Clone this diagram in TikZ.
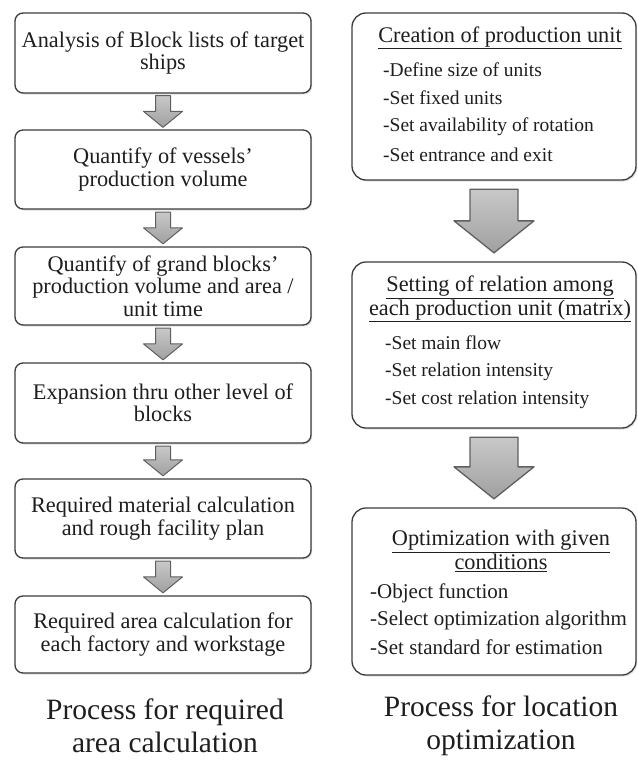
\documentclass[tikz,border=0pt]{standalone}
\usepackage{fontspec}
\setmainfont{Liberation Serif}
\usetikzlibrary{calc,shadows}

\definecolor{boxline}{RGB}{60,60,60}
\definecolor{inktext}{RGB}{30,30,30}
\definecolor{arrowline}{RGB}{95,95,95}
\definecolor{arrowtop}{RGB}{200,200,200}
\definecolor{arrowbottom}{RGB}{160,160,160}

% fat block arrow from the bottom of one box to the top of the next
% #1 from, #2 to, #3 shaft half width, #4 head half width, #5 head length, #6 gap, #7 style
\newcommand{\flowarrow}[7]{%
  \draw[#7] let \p1=(#1.south), \p2=(#2.north) in
    ({\x1-#3},{\y1-#6}) -- ({\x1+#3},{\y1-#6}) -- ({\x1+#3},{\y2+#6+#5})
    -- ({\x1+#4},{\y2+#6+#5}) -- (\x1,{\y2+#6}) -- ({\x1-#4},{\y2+#6+#5})
    -- ({\x1-#3},{\y2+#6+#5}) -- cycle;}

\tikzset{
  basebox/.style={draw=boxline, line width=1.3pt, fill=white, inner sep=0pt,
    drop shadow={shadow xshift=1.2pt, shadow yshift=-1.5pt, opacity=0.25}},
  lbox/.style={basebox, rounded corners=8pt, minimum width=296pt, align=center,
    text=inktext, font=\fontsize{22.3}{22.5}\selectfont},
  rbox/.style={basebox, rounded corners=14pt, minimum width=284pt, minimum height=167pt},
  rtitle/.style={align=center, inner sep=0pt, text=inktext,
    font=\fontsize{22.3}{22}\selectfont},
  ritem/.style={anchor=west, inner sep=0pt, text=inktext,
    font=\fontsize{19.5}{20}\selectfont},
  ritemwide/.style={ritem, font=\fontsize{21}{20}\selectfont},
  caption/.style={align=center, inner sep=0pt, text=inktext,
    font=\fontsize{29.5}{33}\selectfont},
  arrowbase/.style={draw=arrowline, line width=1pt, line join=round,
    top color=arrowtop, bottom color=arrowbottom},
  smallarrow/.style={arrowbase},
  bigarrow/.style={arrowbase, line width=1.3pt, xshift=5pt}
}

\begin{document}
\begin{tikzpicture}[x=1pt, y=-1pt]
\useasboundingbox (0,0) rectangle (637,760);

% ---- left column: required area calculation ----
\node[lbox, minimum height=80pt] (l1) at (163,53)
  {Analysis of Block lists of target\\ships};
\node[lbox, minimum height=79pt] (l2) at (163,169.5)
  {Quantify of vessels'\\production volume};
\node[lbox, minimum height=78pt] (l3) at (163,286)
  {Quantify of grand blocks'\\production volume and area /\\unit time};
\node[lbox, minimum height=80pt] (l4) at (163,403)
  {Expansion thru other level of\\blocks};
\node[lbox, minimum height=79pt] (l5) at (163,518.5)
  {Required material calculation\\and rough facility plan};
\node[lbox, minimum height=77pt] (l6) at (163,634.5)
  {Required area calculation for\\each factory and workstage};

\flowarrow{l1}{l2}{7.5pt}{19.5pt}{16pt}{2pt}{smallarrow}
\flowarrow{l2}{l3}{7.5pt}{19.5pt}{16pt}{2.5pt}{smallarrow}
\flowarrow{l3}{l4}{7.5pt}{19.5pt}{16pt}{2.5pt}{smallarrow}
\flowarrow{l4}{l5}{7.5pt}{19.5pt}{16pt}{2.5pt}{smallarrow}
\flowarrow{l5}{l6}{7.5pt}{19.5pt}{16pt}{2.5pt}{smallarrow}

\node[caption] (capl) at (165,725.5) {Process for required\\area calculation};

% ---- right column: location optimization ----
\node[rbox] (r1) at (494,96.5) {};
\node[rtitle] (r1t) at (500,38) {\underline{Creation of production unit}};
\node[ritem] (r1a) at (383,70)  {-Define size of units};
\node[ritem] (r1b) at (383,98)  {-Set fixed units};
\node[ritem] (r1c) at (383,127) {-Set availability of rotation};
\node[ritem] (r1d) at (383,155) {-Set entrance and exit};

\node[rbox, minimum height=166pt] (r2) at (494,345) {};
\node[rtitle] (r2t) at (500,299)
  {\underline{Setting of relation among}\\\underline{each production unit (matrix)}};
\node[ritem] (r2a) at (385,343) {-Set main flow};
\node[ritem] (r2b) at (385,372) {-Set relation intensity};
\node[ritem] (r2c) at (385,400) {-Set cost relation intensity};

\node[rbox] (r3) at (494,591.5) {};
\node[rtitle] (r3t) at (501,551)
  {\underline{Optimization with given}\\\underline{conditions}};
\node[ritemwide] (r3a) at (370,593) {-Object function};
\node[ritemwide] (r3b) at (370,620) {-Select optimization algorithm};
\node[ritemwide] (r3c) at (370,647) {-Set standard for estimation};

\flowarrow{r1}{r2}{24pt}{40pt}{32pt}{8.5pt}{bigarrow}
\flowarrow{r2}{r3}{24pt}{40pt}{32pt}{8.5pt}{bigarrow}

\node[caption] (capr) at (501,725.5) {Process for location\\optimization};
\end{tikzpicture}
\end{document}
